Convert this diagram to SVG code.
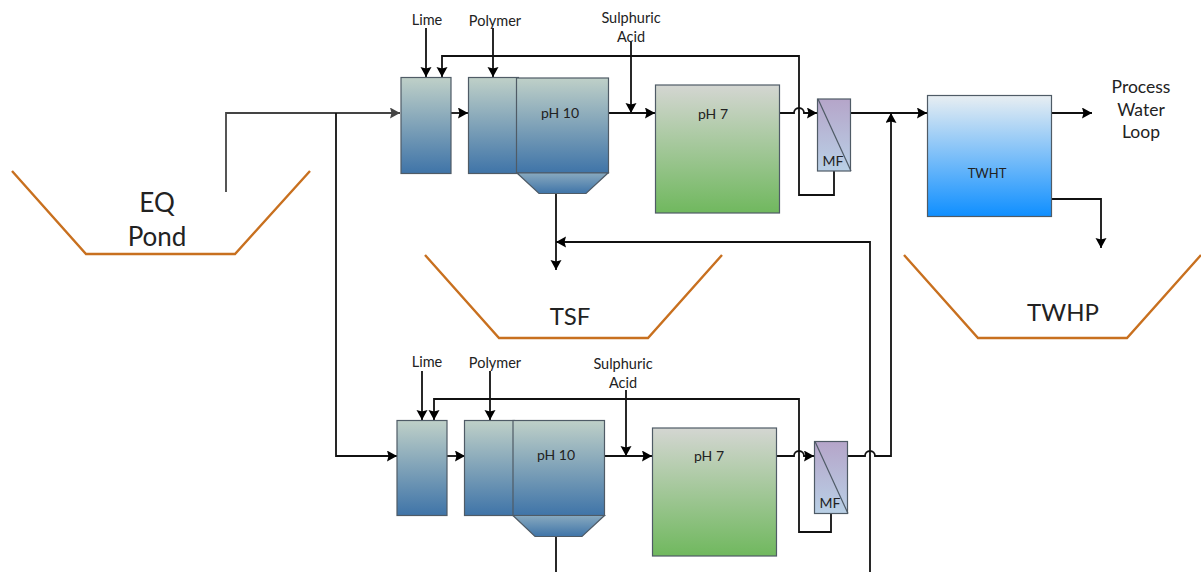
<svg xmlns="http://www.w3.org/2000/svg" width="1201" height="572" viewBox="0 0 1201 572">
<style>
text{font-family:Lato,"Open Sans","Liberation Sans",sans-serif;fill:#222;text-anchor:middle}
.s{font-size:14.500px}
.m{font-size:14px}
.t{font-size:13px}
.l{font-size:24px}
.e{font-size:26px}
.p{font-size:17.500px}
.b{stroke:#4f5b66;stroke-width:1.2}
.c{fill:none;stroke:#111;stroke-width:1.8}
.g{fill:none;stroke:#444;stroke-width:1.8}
.o{fill:none;stroke:#c8701f;stroke-width:2.4}
</style>
<defs>
<linearGradient id="blue" x1="0" y1="0" x2="0" y2="1"><stop offset="0" stop-color="#bfd0c8"/><stop offset="1" stop-color="#3f74a8"/></linearGradient>
<linearGradient id="hop" x1="0" y1="0" x2="0" y2="1"><stop offset="0" stop-color="#88a9bf"/><stop offset="1" stop-color="#3f74a8"/></linearGradient>
<linearGradient id="green" x1="0" y1="0" x2="0" y2="1"><stop offset="0" stop-color="#d4d6d2"/><stop offset="1" stop-color="#70b85e"/></linearGradient>
<linearGradient id="mf" x1="0" y1="0" x2="0" y2="1"><stop offset="0" stop-color="#b5a5c9"/><stop offset="1" stop-color="#b9d0e6"/></linearGradient>
<linearGradient id="tw" x1="0" y1="0" x2="0" y2="1"><stop offset="0" stop-color="#e8eef2"/><stop offset="1" stop-color="#0f8fff"/></linearGradient>
<marker id="a" markerUnits="userSpaceOnUse" markerWidth="12" markerHeight="12" refX="10" refY="5.500" orient="auto"><path d="M0 0L10 5.500L0 11L1.500 5.500Z" fill="#000"/></marker>
<marker id="ag" markerUnits="userSpaceOnUse" markerWidth="12" markerHeight="12" refX="10" refY="5.500" orient="auto"><path d="M0 0L10 5.500L0 11L1.500 5.500Z" fill="#444"/></marker>
</defs>
<g id="eq-pond"><path class="o" d="M12 171L86 254H235L310 171"/><text class="e" x="157" y="212">EQ</text><text class="e" x="157" y="246">Pond</text></g>
<g id="tsf"><path class="o" d="M425 255L499 338H648L722 255"/><text class="l" x="570" y="325">TSF</text></g>
<g id="twhp"><path class="o" d="M904 255L978 338H1127L1201 255"/><text class="l" x="1063" y="321">TWHP</text></g>
<g id="connectors">
<path class="g" marker-end="url(#ag)" d="M226 192V113H400"/>
<path class="c" marker-end="url(#a)" d="M336 113V456H397"/>
<path class="c" marker-end="url(#a)" d="M426 28V77"/>
<path class="c" marker-end="url(#a)" d="M493 28V77"/>
<path class="c" marker-end="url(#a)" d="M631 42V113"/>
<path class="c" marker-end="url(#a)" d="M451 113H468"/>
<path class="c" marker-end="url(#a)" d="M607 113H655"/>
<path class="c" marker-end="url(#a)" d="M779 113H794a5 5 0 0 1 10 0H817"/>
<path class="c" marker-end="url(#a)" d="M851 113H927"/>
<path class="c" marker-end="url(#a)" d="M834 171V195H799V56H442V77"/>
<path class="c" marker-end="url(#a)" d="M556 194V270"/>
<path class="c" marker-end="url(#a)" d="M870 572V242H556"/>
<path class="c" marker-end="url(#a)" d="M1051 113H1092"/>
<path class="c" marker-end="url(#a)" d="M1051 199H1101V248"/>
<path class="c" marker-end="url(#a)" d="M422 371V420"/>
<path class="c" marker-end="url(#a)" d="M490 371V420"/>
<path class="c" marker-end="url(#a)" d="M626 390V456"/>
<path class="c" marker-end="url(#a)" d="M447 456H465"/>
<path class="c" marker-end="url(#a)" d="M604 456H652"/>
<path class="c" marker-end="url(#a)" d="M776 456H794a5 5 0 0 1 10 0H814"/>
<path class="c" marker-end="url(#a)" d="M848 456H865a5 5 0 0 1 10 0H891V113"/>
<path class="c" marker-end="url(#a)" d="M831 514V532H799V399H434V420"/>
<path class="c" d="M556 537V572"/>
</g>
<g id="mix-1"><rect class="b" x="401" y="77.500" width="50" height="96" fill="url(#blue)"/></g>
<g id="clarifier-1"><rect class="b" x="468.500" y="77.500" width="50" height="96" fill="url(#blue)"/><rect class="b" x="516.500" y="78" width="92" height="95" fill="url(#blue)"/><path class="b" d="M517 173H608L586 193.500H539Z" fill="url(#hop)"/><text class="m" x="560" y="118">pH 10</text></g>
<g id="tank-1"><rect class="b" x="655.500" y="85" width="124" height="128" fill="url(#green)"/><text class="m" x="713" y="119">pH 7</text></g>
<g id="mf-1"><rect class="b" x="817.500" y="99" width="33" height="72" fill="url(#mf)"/><path class="b" d="M818 99L851 171" fill="none"/><text class="m" x="833" y="166">MF</text></g>
<g id="twht"><rect class="b" x="927.500" y="95.500" width="124" height="121" fill="url(#tw)"/><text class="t" x="987" y="178">TWHT</text></g>
<g id="mix-2"><rect class="b" x="397" y="420.500" width="50" height="95" fill="url(#blue)"/></g>
<g id="clarifier-2"><rect class="b" x="464.500" y="420.500" width="50" height="95" fill="url(#blue)"/><rect class="b" x="513" y="420.500" width="91.500" height="95" fill="url(#blue)"/><path class="b" d="M513 515.500H604.500L582 536.500H535Z" fill="url(#hop)"/><text class="m" x="556" y="460">pH 10</text></g>
<g id="tank-2"><rect class="b" x="652.500" y="428" width="124" height="128" fill="url(#green)"/><text class="m" x="709" y="461">pH 7</text></g>
<g id="mf-2"><rect class="b" x="814.500" y="441.500" width="33" height="72" fill="url(#mf)"/><path class="b" d="M815 441.500L848 513.500" fill="none"/><text class="m" x="830" y="508">MF</text></g>
<g id="labels">
<text class="s" x="427" y="25">Lime</text>
<text class="s" x="495" y="26">Polymer</text>
<text class="s" x="631" y="23">Sulphuric</text>
<text class="s" x="631" y="42">Acid</text>
<text class="s" x="427" y="367">Lime</text>
<text class="s" x="495" y="368">Polymer</text>
<text class="s" x="623" y="369">Sulphuric</text>
<text class="s" x="623" y="388">Acid</text>
<text class="p" x="1141" y="93">Process</text>
<text class="p" x="1141" y="116">Water</text>
<text class="p" x="1141" y="138">Loop</text>
</g>
</svg>
